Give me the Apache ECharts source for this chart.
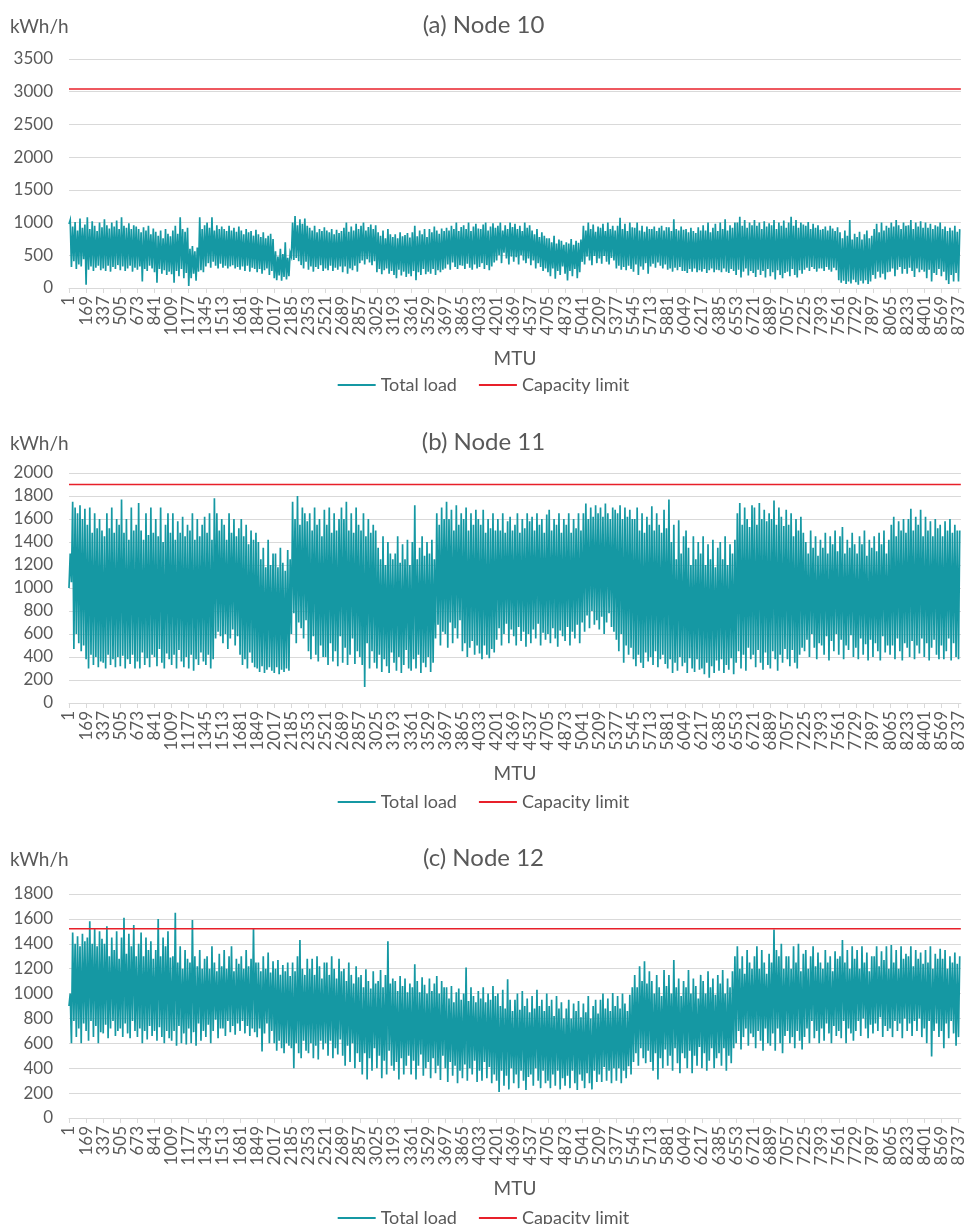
<!DOCTYPE html>
<html>
<head>
<meta charset="utf-8">
<script src="https://cdn.jsdelivr.net/npm/echarts@6/dist/echarts.min.js"></script>
<style>
  html, body { margin: 0; padding: 0; background: #fff; }
  #chart { width: 967px; height: 1224px; }
</style>
</head>
<body>
<div id="chart"></div>
<script>
var SAMPLE_STEP = 12;
var HOURS = 8760;
var TICK_STEP = 168;

var node10Load = [
  980,1040,320,940,410,1010,290,880,360,1060,330,920,440,970,
  50,1080,280,900,330,1020,260,950,310,870,340,1000,270,930,
  300,1050,260,960,340,910,250,1000,320,940,290,1030,350,900,
  270,1080,330,950,260,920,300,990,340,900,250,960,310,940,
  280,900,330,850,100,930,290,880,260,950,340,820,300,910,
  240,860,80,800,290,880,220,760,270,900,200,830,250,790,
  210,880,80,950,260,830,180,1080,290,900,150,860,230,920,
  30,600,150,640,220,560,110,620,250,1080,270,900,240,960,
  330,1000,380,920,310,1080,400,880,340,960,300,900,370,940,
  310,900,340,870,300,950,330,880,350,920,300,860,320,940,
  280,880,330,820,260,900,340,850,250,870,310,800,290,890,
  240,820,290,780,220,850,270,760,300,800,200,830,260,750,
  150,560,120,480,190,600,110,520,170,700,130,460,180,540,
  480,1000,430,1100,460,960,410,1050,350,980,300,1060,400,950,
  280,920,330,880,250,950,320,850,290,900,350,870,260,930,
  300,880,270,850,340,900,260,820,310,890,280,840,330,870,
  240,920,330,1000,220,860,300,940,270,880,340,980,250,900,
  380,950,420,1000,360,880,440,930,390,970,350,900,410,960,
  240,850,290,800,210,880,270,760,300,900,220,820,260,780,
  200,820,150,760,280,850,190,790,250,810,170,840,220,770,
  180,850,260,950,120,790,240,880,200,820,290,900,210,780,
  250,900,220,850,290,940,200,880,270,830,240,910,280,870,
  300,920,360,880,280,950,390,900,320,1000,290,870,350,930,
  340,960,290,900,370,1000,310,870,280,940,360,980,300,910,
  320,900,380,970,290,1000,350,880,270,940,330,990,390,920,
  420,950,500,1000,380,880,540,960,450,900,360,1000,480,930,
  400,980,470,900,360,950,500,870,420,1000,380,920,450,960,
  350,880,420,820,300,900,380,780,320,850,260,800,300,760,
  240,760,180,700,300,800,140,680,260,740,200,720,330,660,
  220,700,115,680,260,750,180,660,290,720,150,690,240,740,
  400,950,360,880,480,1000,420,900,350,970,490,860,380,940,
  450,920,370,980,490,870,400,1000,360,900,460,950,420,880,
  300,950,340,1075,280,900,320,980,270,870,340,1000,290,930,
  250,920,360,1000,200,880,330,950,280,860,380,940,220,900,
  330,900,370,940,310,870,390,920,340,950,300,880,360,930,
  280,930,300,870,250,1050,310,900,270,880,320,940,260,890,
  260,900,230,850,290,920,250,870,300,840,240,930,270,880,
  250,960,290,880,230,1000,270,850,300,920,240,980,280,870,
  270,1000,240,900,300,1050,250,880,230,960,290,920,260,1000,
  200,1000,280,1090,160,950,250,1040,300,920,190,1000,260,960,
  230,1040,170,950,280,1000,200,900,260,1020,160,940,290,990,
  180,960,240,1040,130,900,270,1000,200,950,150,1030,230,920,
  250,1000,180,1090,290,950,200,1040,160,920,270,1000,220,970,
  280,950,310,1010,260,900,320,980,290,920,250,960,300,890,
  300,900,260,940,320,880,280,950,250,910,310,870,270,930,
  120,850,80,760,110,880,60,800,100,1040,70,740,125,830,
  90,780,50,860,110,740,70,820,120,880,60,760,100,800,
  200,900,140,980,250,850,160,1000,220,880,130,950,240,920,
  250,1000,300,940,180,1040,280,960,320,900,220,1000,290,950,
  220,960,310,1040,260,900,170,1000,300,940,240,1020,280,920,
  250,1000,150,920,280,980,100,900,230,960,200,940,290,1000,
  180,900,250,940,120,870,60,920,200,880,100,950,230,860,
  100,900
];

var node11Load = [
  1000,1300,1050,1750,470,1700,600,1650,520,1720,450,1600,500,1690,
  380,1550,300,1700,420,1480,330,1650,400,1520,310,1600,360,1500,
  350,1450,300,1650,420,1520,330,1700,380,1480,310,1600,400,1550,
  320,1770,410,1480,300,1600,380,1420,340,1700,420,1500,300,1550,
  360,1740,300,1500,440,1420,330,1650,390,1460,310,1700,420,1480,
  400,1600,320,1450,470,1700,350,1400,300,1550,430,1650,380,1480,
  330,1650,420,1420,300,1580,460,1480,360,1620,310,1450,400,1550,
  300,1500,420,1650,280,1420,380,1600,330,1450,440,1550,360,1620,
  330,1480,420,1650,300,1420,380,1780,560,1650,620,1500,580,1600,
  520,1550,600,1420,470,1650,560,1480,640,1600,500,1450,580,1520,
  420,1600,330,1450,380,1550,300,1380,440,1500,350,1420,310,1480,
  300,1400,270,1250,320,1350,260,1180,290,1420,310,1200,280,1300,
  260,1300,310,1180,250,1350,290,1220,270,1150,300,1330,280,1250,
  600,1750,780,1600,520,1800,700,1550,650,1700,560,1650,720,1580,
  450,1650,380,1500,580,1700,420,1550,360,1600,500,1450,400,1680,
  400,1550,330,1700,520,1480,360,1650,450,1500,320,1600,580,1700,
  350,1600,480,1750,330,1500,420,1650,560,1480,340,1700,450,1550,
  400,1500,330,1650,140,1450,520,1600,300,1480,450,1550,350,1500,
  300,1350,420,1250,270,1450,380,1200,320,1400,260,1300,440,1250,
  350,1300,280,1450,400,1220,260,1380,330,1250,460,1420,300,1200,
  280,1400,380,1720,300,1250,420,1350,260,1450,350,1280,310,1400,
  400,1300,270,1420,350,1250,560,1650,680,1550,500,1700,620,1600,
  600,1750,480,1600,700,1680,520,1500,650,1720,560,1550,720,1650,
  450,1600,520,1700,400,1500,480,1650,540,1550,420,1680,500,1600,
  430,1550,380,1680,500,1480,420,1600,390,1520,470,1650,440,1500,
  550,1600,650,1500,500,1650,600,1480,690,1580,520,1620,640,1500,
  580,1550,500,1650,660,1480,540,1600,620,1520,490,1650,600,1580,
  520,1620,640,1500,560,1650,690,1550,500,1600,610,1480,550,1640,
  600,1680,520,1500,650,1600,560,1550,490,1650,630,1480,580,1600,
  540,1550,660,1650,500,1480,620,1600,560,1520,680,1650,520,1500,
  700,1650,620,1735,760,1600,650,1700,800,1620,680,1720,720,1650,
  640,1700,750,1620,600,1735,700,1650,780,1600,660,1700,620,1680,
  550,1650,450,1720,600,1600,350,1700,500,1620,420,1680,480,1600,
  380,1600,320,1700,420,1500,350,1650,305,1480,440,1620,360,1550,
  400,1710,330,1500,450,1650,310,1550,380,1480,420,1680,340,1520,
  300,1770,380,1400,260,1550,350,1250,280,1590,400,1300,320,1450,
  350,1500,260,1350,390,1200,300,1450,270,1250,380,1400,290,1300,
  300,1450,250,1200,350,1380,220,1250,320,1420,260,1180,370,1350,
  280,1400,380,1250,260,1450,330,1200,290,1380,390,1300,250,1420,
  350,1650,450,1740,300,1550,420,1700,280,1600,480,1530,380,1720,
  420,1700,310,1550,460,1740,350,1600,290,1680,440,1580,330,1650,
  300,1600,450,1760,380,1550,280,1700,420,1620,350,1540,470,1680,
  380,1550,320,1650,460,1450,350,1600,300,1500,420,1620,480,1480,
  450,1400,550,1300,400,1500,600,1350,480,1450,380,1280,520,1420,
  500,1350,420,1480,580,1300,370,1450,540,1380,450,1500,600,1320,
  420,1450,550,1530,380,1300,500,1420,460,1350,590,1480,400,1380,
  480,1300,380,1450,560,1380,420,1500,510,1280,370,1420,550,1350,
  400,1450,520,1320,450,1480,370,1380,580,1500,440,1300,500,1420,
  420,1550,500,1620,380,1450,560,1580,450,1500,370,1600,520,1480,
  480,1600,400,1690,540,1500,380,1620,500,1550,430,1680,560,1450,
  400,1620,520,1500,370,1580,480,1450,550,1600,420,1520,380,1550,
  500,1450,380,1580,450,1500,560,1600,370,1480,520,1550,400,1500,
  380,1500
];

var node12Load = [
  900,1000,600,1490,780,1400,650,1460,720,1380,600,1480,760,1420,
  700,1450,620,1580,780,1400,650,1520,740,1380,600,1500,690,1440,
  680,1400,750,1540,640,1300,720,1450,780,1350,660,1500,700,1280,
  720,1450,650,1610,760,1320,680,1480,640,1380,780,1550,700,1300,
  650,1400,720,1490,600,1300,700,1450,630,1350,740,1420,660,1280,
  700,1350,620,1600,730,1300,650,1450,600,1380,700,1500,640,1290,
  620,1300,700,1650,580,1250,740,1380,600,1200,680,1350,590,1280,
  720,1250,600,1590,690,1300,580,1220,760,1350,620,1200,700,1280,
  650,1300,750,1200,600,1380,700,1250,790,1180,640,1320,720,1220,
  720,1350,660,1200,780,1300,690,1380,740,1180,670,1280,760,1240,
  700,1300,780,1200,680,1350,740,1220,660,1280,720,1525,690,1250,
  650,1250,720,1180,535,1300,680,1200,760,1330,600,1170,700,1260,
  600,1200,540,1270,620,1150,560,1230,520,1180,600,1250,580,1140,
  560,1250,400,1180,600,1300,520,1430,480,1200,620,1150,540,1280,
  520,1200,600,1280,480,1150,580,1300,470,1220,620,1120,550,1250,
  600,1250,500,1150,620,1300,480,1200,560,1120,510,1280,630,1180,
  500,1200,420,1100,580,1250,450,1150,600,1080,400,1220,520,1130,
  450,1150,350,1050,520,1195,310,1100,480,1040,380,1180,560,1080,
  400,1100,500,1190,320,1050,460,1150,350,1420,540,1080,420,1120,
  380,1100,450,1020,310,1140,480,1060,350,1120,420,1010,500,1080,
  350,1050,460,1235,310,1100,420,1010,510,1130,340,1070,400,1000,
  450,1120,320,1020,480,1080,360,1140,420,1000,305,1100,500,1050,
  400,1050,290,960,450,1060,340,930,420,1010,280,1040,380,950,
  320,1000,430,1210,300,940,400,1050,350,980,460,930,290,1020,
  380,960,300,1050,450,930,320,1000,410,950,280,1060,350,980,
  300,1000,210,900,380,1030,260,880,340,1115,230,950,400,860,
  280,950,350,1000,240,870,380,1020,300,900,225,960,330,850,
  350,980,260,880,400,1030,300,900,240,950,380,860,280,1000,
  300,900,240,950,350,820,260,980,380,880,230,930,320,800,
  260,880,340,950,240,800,380,920,280,860,225,940,350,810,
  300,920,240,850,360,980,280,800,230,900,380,950,290,840,
  350,950,290,1000,410,880,300,960,380,860,280,1005,400,900,
  300,980,400,880,280,1000,380,920,320,860,415,990,350,1050,
  450,1150,520,1050,420,1220,560,1100,480,1260,440,1080,540,1180,
  450,1100,380,1000,520,1150,310,1050,480,980,400,1190,550,1060,
  420,1150,500,1000,380,1270,560,1050,440,1120,360,980,520,1100,
  480,1050,400,1190,540,1000,360,1120,500,1060,420,960,570,1150,
  400,1100,520,1000,380,1180,460,1050,560,1120,400,990,480,1150,
  520,1080,420,1190,560,1000,380,1120,500,1050,440,1180,560,1300,
  600,1380,700,1200,550,1300,650,1160,720,1350,580,1250,680,1200,
  650,1300,560,1380,700,1200,620,1350,540,1250,720,1160,600,1320,
  580,1250,680,1515,540,1350,720,1300,600,1400,520,1200,660,1300,
  700,1300,600,1200,650,1380,560,1250,700,1400,620,1180,550,1320,
  650,1350,720,1200,600,1300,780,1380,640,1220,700,1330,600,1250,
  720,1200,620,1350,760,1250,680,1300,600,1180,740,1340,660,1280,
  700,1300,640,1430,780,1250,600,1350,720,1200,680,1380,620,1280,
  700,1350,780,1200,660,1380,800,1250,720,1330,640,1180,750,1300,
  680,1300,760,1380,700,1220,810,1340,650,1270,740,1380,700,1200,
  720,1390,650,1250,780,1350,700,1200,760,1380,640,1280,800,1320,
  700,1300,760,1380,660,1220,780,1350,700,1280,800,1330,650,1240,
  720,1350,600,1250,780,1380,495,1200,700,1320,760,1280,650,1360,
  700,1280,560,1350,760,1200,640,1300,780,1250,680,1330,580,1240,
  650,1300
];

var panelTitles = ['(a) Node 10', '(b) Node 11', '(c) Node 12'];
var capacityLimits = [3040, 1900, 1520];
var yMax = [3500, 2000, 1800];
var yStep = [500, 200, 200];
var loads = [node10Load, node11Load, node12Load];

// layout of the three stacked panels (px)
var gridTop = [59, 473, 894];
var gridHeight = [229, 230, 224];
var titleTop = [13, 430, 846];
var legendTop = [371, 788, 1204];

var textColor = '#595959';
var gridColor = '#d9d9d9';
var loadColor = '#1598a3';
var capColor = '#e8202a';
var font = 'Lato';

var grids = [], xAxes = [], yAxes = [], series = [], titles = [], legends = [], graphics = [];

for (var p = 0; p < 3; p++) {
  grids.push({ left: 69, right: 5, top: gridTop[p], height: gridHeight[p] });

  xAxes.push({
    gridIndex: p,
    type: 'value',
    min: 0,
    max: HOURS,
    interval: TICK_STEP,
    name: 'MTU',
    nameLocation: 'middle',
    nameGap: 61,
    nameTextStyle: { fontFamily: font, fontSize: 19, color: textColor },
    axisLine: { lineStyle: { color: gridColor } },
    axisTick: { length: 5, lineStyle: { color: gridColor } },
    splitLine: { show: false },
    axisLabel: {
      rotate: 90,
      margin: 8,
      showMinLabel: true,
      showMaxLabel: false,
      fontFamily: font,
      fontSize: 17,
      color: textColor,
      formatter: function (v) { return v % TICK_STEP === 0 ? String(v + 1) : ''; }
    }
  });

  yAxes.push({
    gridIndex: p,
    type: 'value',
    min: 0,
    max: yMax[p],
    interval: yStep[p],
    axisLine: { show: false },
    axisTick: { show: false },
    splitLine: { lineStyle: { color: gridColor, width: 1 } },
    axisLabel: {
      margin: 16, fontFamily: font, fontSize: 17, color: textColor,
      formatter: function (v) { return String(v); }
    }
  });

  series.push({
    name: 'Total load',
    type: 'line',
    xAxisIndex: p,
    yAxisIndex: p,
    showSymbol: false,
    symbol: 'none',
    sampling: null,
    lineStyle: { width: 1.7, color: loadColor, join: 'miter' },
    itemStyle: { color: loadColor },
    data: loads[p].map(function (v, i) { return [i * SAMPLE_STEP, v]; })
  });

  series.push({
    name: 'Capacity limit',
    type: 'line',
    xAxisIndex: p,
    yAxisIndex: p,
    showSymbol: false,
    symbol: 'none',
    z: 3,
    lineStyle: { width: 1.5, color: capColor },
    itemStyle: { color: capColor },
    data: [[0, capacityLimits[p]], [HOURS - 1, capacityLimits[p]]]
  });

  titles.push({
    text: panelTitles[p],
    left: 'center',
    top: titleTop[p],
    padding: 0,
    textStyle: { fontFamily: font, fontSize: 24, fontWeight: 'normal', color: textColor }
  });

  legends.push({
    data: ['Total load', 'Capacity limit'],
    left: 'center',
    top: legendTop[p],
    icon: 'rect',
    itemWidth: 38,
    itemHeight: 2,
    itemGap: 22,
    textStyle: { fontFamily: font, fontSize: 18, color: textColor }
  });

  graphics.push({
    type: 'text',
    left: 10,
    top: titleTop[p] + 4,
    style: { text: 'kWh/h', font: '19px Lato', fill: textColor }
  });
}

var chart = echarts.init(document.getElementById('chart'));
chart.setOption({
  animation: false,
  color: [loadColor, capColor],
  title: titles,
  legend: legends,
  grid: grids,
  xAxis: xAxes,
  yAxis: yAxes,
  series: series,
  graphic: graphics
});
</script>
</body>
</html>
